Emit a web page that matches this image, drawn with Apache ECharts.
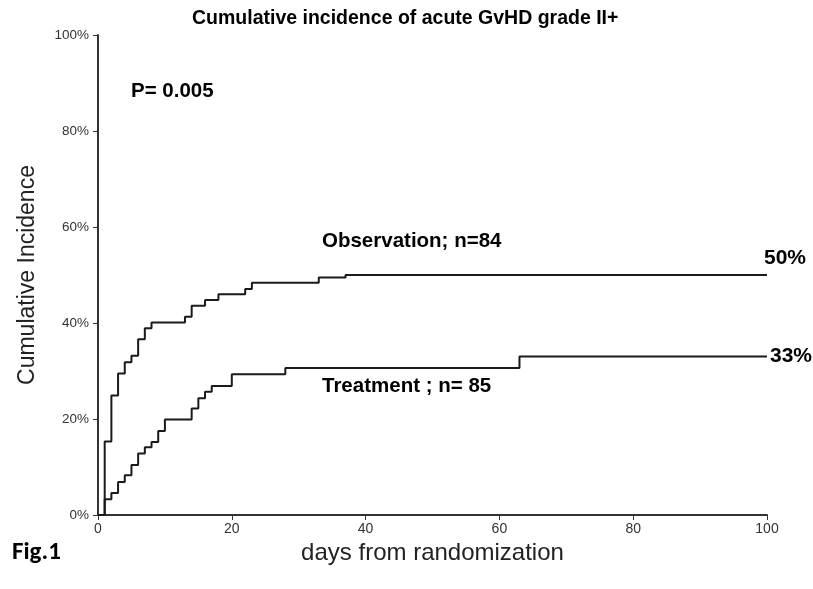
<!DOCTYPE html>
<html>
<head>
<meta charset="utf-8">
<script src="https://cdn.jsdelivr.net/npm/echarts@6/dist/echarts.min.js"></script>
<style>
  html, body { margin: 0; padding: 0; background: #fff; }
  #chart { width: 813px; height: 589px; }
</style>
</head>
<body>
<div id="chart"></div>
<script>
// Cumulative incidence (%) of acute GvHD grade II+ by day
const obsDays   = [0, 1, 2, 3, 4, 5, 6, 7, 8, 13, 14, 16, 18, 22, 23, 33, 37, 100];
const obsValues = [0, 15.3, 24.9, 29.5, 31.8, 33.2, 36.6, 38.9, 40.1, 41.3, 43.6, 44.8, 46.0, 47.1, 48.4, 49.5, 50, 50];

const trtDays   = [0, 1, 2, 3, 4, 5, 6, 7, 8, 9, 10, 14, 15, 16, 17, 20, 28, 63, 100];
const trtValues = [0, 3.3, 4.6, 6.9, 8.3, 10.4, 12.8, 14.1, 15.2, 17.5, 19.9, 22.2, 24.3, 25.7, 26.9, 29.3, 30.6, 33, 33];

const xTicks = [0, 20, 40, 60, 80, 100];
const yTicks = [0, 20, 40, 60, 80, 100];

const obsName = 'Observation; n=84';
const trtName = 'Treatment ; n= 85';
const pText = 'P= 0.005';
const titleText = 'Cumulative incidence of acute GvHD grade II+';
const figText = 'Fig.1';

const zip = (xs, ys) => xs.map((x, i) => [x, ys[i]]);
const chart = echarts.init(document.getElementById('chart'), null, { renderer: 'canvas' });

const axisFont = 'Liberation Sans, Arial, sans-serif';
const lineColor = '#1a1a1a';
const boldNote = 'bold 20.5px Liberation Sans, Arial, sans-serif';

chart.setOption({
  animation: false,
  backgroundColor: '#fff',
  title: {
    text: titleText,
    left: 187,
    top: 4,
    textStyle: { fontFamily: axisFont, fontWeight: 'bold', fontSize: 19.5, color: '#000' }
  },
  grid: { left: 98, right: 46, top: 35, bottom: 74 },
  xAxis: {
    type: 'value',
    min: 0, max: 100, interval: 20,
    name: 'days from randomization',
    nameLocation: 'middle',
    nameGap: 18,
    nameTextStyle: { fontFamily: axisFont, fontSize: 24, color: '#222' },
    axisLine: { lineStyle: { color: '#333', width: 2 } },
    axisTick: { show: true, length: 5, lineStyle: { color: '#333', width: 1 } },
    axisLabel: {
      fontFamily: 'Liberation Sans Narrow, Arial Narrow, Liberation Sans, sans-serif',
      fontSize: 14, color: '#333', margin: 7,
      formatter: v => xTicks.includes(v) ? String(v) : ''
    },
    splitLine: { show: false }
  },
  yAxis: {
    type: 'value',
    min: 0, max: 100, interval: 20,
    name: 'Cumulative Incidence',
    nameLocation: 'middle',
    nameGap: 59,
    nameTextStyle: { fontFamily: axisFont, fontSize: 23, color: '#222' },
    axisLine: { show: true, lineStyle: { color: '#333', width: 2 } },
    axisTick: { show: true, length: 5, lineStyle: { color: '#333', width: 1 } },
    axisLabel: {
      fontFamily: axisFont, fontSize: 13.5, color: '#333', margin: 9,
      formatter: v => yTicks.includes(v) ? v + '%' : ''
    },
    splitLine: { show: false }
  },
  series: [
    {
      name: obsName,
      type: 'line',
      step: 'end',
      symbol: 'none',
      data: zip(obsDays, obsValues),
      lineStyle: { color: lineColor, width: 2 },
      endLabel: {
        show: true,
        formatter: p => Math.round(p.value[1]) + '%',
        fontFamily: axisFont, fontWeight: 'bold', fontSize: 21, color: '#000',
        offset: [-11, -17]
      }
    },
    {
      name: trtName,
      type: 'line',
      step: 'end',
      symbol: 'none',
      data: zip(trtDays, trtValues),
      lineStyle: { color: lineColor, width: 2 },
      endLabel: {
        show: true,
        formatter: p => Math.round(p.value[1]) + '%',
        fontFamily: axisFont, fontWeight: 'bold', fontSize: 21, color: '#000',
        distance: 3
      }
    }
  ],
  graphic: [
    { type: 'text', left: 131, top: 81,
      style: { text: pText, font: boldNote, fill: '#000' } },
    { type: 'text', left: 322, top: 231,
      style: { text: obsName, font: boldNote, fill: '#000' } },
    { type: 'text', left: 322, top: 376,
      style: { text: trtName, font: boldNote, fill: '#000' } },
    { type: 'text', left: 12, top: 540,
      style: { text: figText, font: 'bold 25px Carlito, Calibri, Liberation Sans, sans-serif', fill: '#000' } }
  ]
});
</script>
</body>
</html>
